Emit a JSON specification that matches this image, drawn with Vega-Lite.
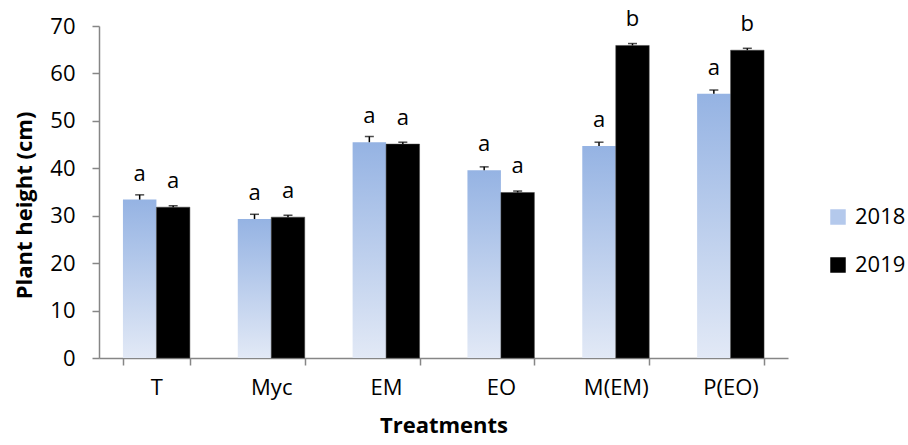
{
  "$schema": "https://vega.github.io/schema/vega-lite/v6.json",
  "width": 689,
  "height": 332,
  "autosize": "none",
  "padding": {"left": 99, "top": 26, "right": 120, "bottom": 87},
  "background": "white",
  "config": {
    "font": "Open Sans",
    "view": {"stroke": null},
    "axis": {"labelFont": "Open Sans", "titleFont": "Open Sans", "labelColor": "#000000", "titleColor": "#000000", "domainColor": "#868686", "tickColor": "#868686", "domainWidth": 1.5, "tickWidth": 1.5, "tickSize": 7, "grid": false}
  },
  "data": {
    "values": [
      {"treatment": "T", "year": "2018", "value": 33.4, "upper": 34.4, "letter": "a"},
      {"treatment": "T", "year": "2019", "value": 31.8, "upper": 32.1, "letter": "a"},
      {"treatment": "Myc", "year": "2018", "value": 29.3, "upper": 30.3, "letter": "a"},
      {"treatment": "Myc", "year": "2019", "value": 29.7, "upper": 30.1, "letter": "a"},
      {"treatment": "EM", "year": "2018", "value": 45.5, "upper": 46.7, "letter": "a"},
      {"treatment": "EM", "year": "2019", "value": 45.1, "upper": 45.5, "letter": "a"},
      {"treatment": "EO", "year": "2018", "value": 39.6, "upper": 40.3, "letter": "a"},
      {"treatment": "EO", "year": "2019", "value": 34.9, "upper": 35.2, "letter": "a"},
      {"treatment": "M(EM)", "year": "2018", "value": 44.7, "upper": 45.5, "letter": "a"},
      {"treatment": "M(EM)", "year": "2019", "value": 65.9, "upper": 66.3, "letter": "b"},
      {"treatment": "P(EO)", "year": "2018", "value": 55.7, "upper": 56.5, "letter": "a"},
      {"treatment": "P(EO)", "year": "2019", "value": 64.9, "upper": 65.3, "letter": "b"}
    ]
  },
  "encoding": {
    "x": {
      "field": "treatment", "type": "nominal",
      "sort": ["T", "Myc", "EM", "EO", "M(EM)", "P(EO)"],
      "scale": {"paddingInner": 0.417, "paddingOuter": 0.2085},
      "axis": {"title": "Treatments", "labelAngle": 0, "labelFontSize": 22, "labelPadding": 12, "titleFontSize": 22, "titleFontWeight": "bold", "titlePadding": 17, "tickBand": "extent"}
    },
    "xOffset": {"field": "year", "type": "nominal", "sort": ["2018", "2019"], "scale": {"paddingInner": 0, "paddingOuter": 0}},
    "y": {
      "field": "value", "type": "quantitative",
      "scale": {"domain": [0, 70], "nice": false, "zero": true},
      "axis": {"title": "Plant height (cm)", "values": [0, 10, 20, 30, 40, 50, 60, 70], "labelFontSize": 22, "labelPadding": 17, "titleFontSize": 22, "titleFontWeight": "bold", "titleY": 179, "titlePadding": 13}
    }
  },
  "layer": [
    {
      "transform": [{"filter": "datum.year === '2018'"}],
      "mark": {"type": "bar", "color": {"gradient": "linear", "x1": 0, "y1": 0, "x2": 0, "y2": 1, "stops": [{"offset": 0, "color": "#95B3E3"}, {"offset": 1, "color": "#E2E9F6"}]}}
    },
    {
      "transform": [{"filter": "datum.year === '2019'"}],
      "mark": {"type": "bar", "color": "#000000", "stroke": "#404040", "strokeWidth": 0.5}
    },
    {
      "mark": {"type": "point", "opacity": 0, "filled": true},
      "encoding": {
        "color": {
          "field": "year", "type": "nominal",
          "scale": {"domain": ["2018", "2019"], "range": ["#B4C9EC", "#000000"]},
          "legend": {
            "title": null, "orient": "none", "legendX": 728, "legendY": 180,
            "symbolType": "square", "symbolSize": 240, "symbolStrokeWidth": 0, "symbolOpacity": 1,
            "labelFontSize": 22, "labelOffset": 6, "rowPadding": 26, "padding": 0,
            "labelColor": "#000000"
          }
        }
      }
    },
    {
      "mark": {"type": "rule", "color": "#000000", "strokeWidth": 1.5},
      "encoding": {
        "y2": {"field": "upper"}
      }
    },
    {
      "mark": {"type": "tick", "color": "#000000", "size": 9, "thickness": 1.5},
      "encoding": {
        "y": {"field": "upper", "type": "quantitative"}
      }
    },
    {
      "mark": {"type": "text", "fontSize": 22, "baseline": "alphabetic", "dy": -19, "color": "#000000"},
      "encoding": {
        "text": {"field": "letter"}
      }
    }
  ]
}
